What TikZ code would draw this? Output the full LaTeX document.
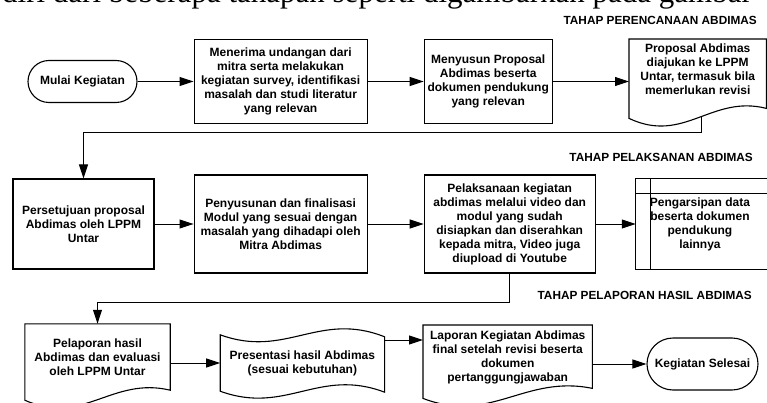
\documentclass[tikz,border=0pt]{standalone}
\usepackage{fontspec}
\setmainfont{Liberation Serif}
\newfontfamily\diagfont{Liberation Sans}
\usepackage{tikz}
\usetikzlibrary{positioning, calc, arrows.meta}
\newcommand{\flowfont}{\diagfont\bfseries\fontsize{12}{14}\selectfont}
\newcommand{\stagefont}{\diagfont\bfseries\fontsize{11.8}{14}\selectfont}
\tikzstyle{terminal} = [rectangle, rounded corners=21pt, text centered, align=center, draw=black, line width=1.1pt, font=\flowfont]
\tikzstyle{process} = [rectangle, text centered, align=center, draw=black, line width=1.1pt, font=\flowfont]
\tikzstyle{docnode} = [rectangle, text centered, align=center, font=\flowfont]
\tikzstyle{outline} = [draw=black, line width=1.1pt]
\tikzstyle{stage} = [inner sep=0pt, anchor=east, font=\stagefont]
\tikzstyle{arrow} = [line width=1pt, -{Triangle[length=14pt,width=9pt]}]
% document outline: #1 node, #2 drop of the wavy bottom below the node
\newcommand{\docshape}[2]{%
  \draw[outline] ($(#1.south west)+(0,#2)$) -- (#1.north west) -- (#1.north east) -- ($(#1.south east)+(0,#2-10)$)
    .. controls ($(#1.south west)!0.6!(#1.south east)+(0,#2-24)$) and ($(#1.south west)!0.4!(#1.south east)+(0,#2+26)$)
    .. ($(#1.south west)+(0,#2)$) coordinate[pos=0.47] (#1-wave) -- cycle;}
% tape outline: wavy top and bottom
\newcommand{\tapeshape}[1]{%
  \draw[outline] (#1.north west)
    .. controls ($(#1.north west)!0.4!(#1.north east)+(0,24)$) and ($(#1.north west)!0.6!(#1.north east)+(0,-24)$)
    .. ($(#1.north east)+(0,2)$) -- ($(#1.south east)+(0,1)$)
    .. controls ($(#1.south west)!0.6!(#1.south east)+(0,-24)$) and ($(#1.south west)!0.4!(#1.south east)+(0,24)$)
    .. (#1.south west) -- cycle;}
\begin{document}
\begin{tikzpicture}[x=1pt, y=-1pt]
  \useasboundingbox (0,0) rectangle (767,403);
  \clip (0,0) rectangle (767,403);

  \node (kalimat) [inner sep=0pt, anchor=base east, font=\fontsize{31}{36}\selectfont] at (752,3) {terdiri dari beberapa tahapan seperti digambarkan pada gambar};

  % tahap perencanaan
  \node (tahap1) [stage] at (757,20) {TAHAP PERENCANAAN ABDIMAS};
  \node (mulai) [terminal, minimum width=109pt, minimum height=42pt] at (82.5,81.5) {Mulai Kegiatan};
  \node (terima) [process, minimum width=173pt, minimum height=84pt, right=56pt of mulai] {Menerima undangan dari\\ mitra serta melakukan\\ kegiatan survey, identifikasi\\ masalah dan studi literatur\\ yang relevan};
  \node (susun) [process, minimum width=121pt, minimum height=84pt, right=56pt of terima] {Menyusun Proposal\\ Abdimas beserta\\ dokumen pendukung\\ yang relevan};
  \node (ajukan) [docnode, minimum width=137pt, minimum height=60pt, anchor=north west] at (629,39) {Proposal Abdimas\\ diajukan ke LPPM\\ Untar, termasuk bila\\ memerlukan revisi};
  \docshape{ajukan}{19}

  % tahap pelaksanaan
  \node (tahap2) [stage] at (753,157) {TAHAP PELAKSANAN ABDIMAS};
  \node (setuju) [process, minimum width=141pt, minimum height=90pt] at (83.5,224) {Persetujuan proposal\\ Abdimas oleh LPPM\\ Untar};
  \node (modul) [process, minimum width=173pt, minimum height=98pt, right=39pt of setuju] {Penyusunan dan finalisasi\\ Modul yang sesuai dengan\\ masalah yang dihadapi oleh\\ Mitra Abdimas};
  \node (laksana) [process, minimum width=171pt, minimum height=98pt, right=56pt of modul] {Pelaksanaan kegiatan\\ abdimas melalui video dan\\ modul yang sudah\\ disiapkan dan diserahkan\\ kepada mitra, Video juga\\ diupload di Youtube};
  \node (arsip) [docnode, minimum width=128pt, minimum height=91pt, right=40pt of laksana] {Pengarsipan data\\ beserta dokumen\\ pendukung\\ lainnya};
  \draw[outline] ([xshift=20pt]arsip.north east) -- (arsip.north west) -- (arsip.south west) -- ([xshift=20pt]arsip.south east);
  \draw[outline] ([yshift=-15pt]arsip.north west) -- ([yshift=-15pt,xshift=20pt]arsip.north east);
  \draw[outline] ([xshift=15pt]arsip.north west) -- ([xshift=15pt]arsip.south west);

  % tahap pelaporan
  \node (tahap3) [stage] at (752,295) {TAHAP PELAPORAN HASIL ABDIMAS};
  \node (lapor) [docnode, minimum width=145pt, minimum height=66pt] at (97.5,357) {Pelaporan hasil\\ Abdimas dan evaluasi\\ oleh LPPM Untar};
  \docshape{lapor}{10}
  \node (pres) [docnode, minimum width=164pt, minimum height=56pt, right=50pt of lapor, yshift=-6pt] {Presentasi hasil Abdimas\\ (sesuai kebutuhan)};
  \tapeshape{pres}
  \node (lapfin) [docnode, minimum width=169pt, minimum height=64pt, anchor=north west] at (423,325) {Laporan Kegiatan Abdimas\\ final setelah revisi beserta\\ dokumen\\ pertanggungjawaban};
  \docshape{lapfin}{9}
  \node (selesai) [terminal, rounded corners=26pt, minimum width=111pt, minimum height=52pt] at (702.5,364) {Kegiatan Selesai};

  \draw [arrow] (mulai) -- (terima);
  \draw [arrow] (terima) -- (susun);
  \draw [arrow] (susun) -- (susun -| ajukan.west);
  \draw [arrow] (ajukan-wave) -- (ajukan-wave |- 0,133) -| (setuju);
  \draw [arrow] (setuju) -- (modul);
  \draw [arrow] (modul) -- (laksana);
  \draw [arrow] (laksana) -- (arsip);
  \draw [arrow] (laksana.south) -- ++(0,29) -| (lapor);
  \draw [arrow] (lapor.east |- pres.west) -- (pres.west);
  \draw [arrow] ([yshift=23pt]pres.east) -- ([yshift=23pt]pres.east -| lapfin.west);
  \draw [arrow] (lapfin.east |- selesai) -- (selesai);
\end{tikzpicture}
\end{document}
